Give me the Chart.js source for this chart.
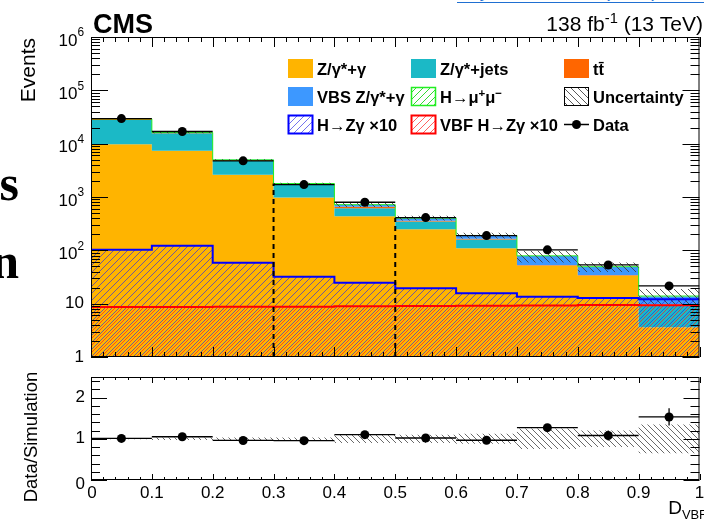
<!DOCTYPE html>
<html lang="en">
<head>
<meta charset="UTF-8">
<title>D_VBF distribution</title>
<script src="https://cdn.jsdelivr.net/npm/chart.js@4"></script>
<style>
  html, body { margin: 0; padding: 0; background: #fff; }
  body { width: 704px; height: 519px; position: relative; overflow: hidden; font-family: 'Liberation Sans', Arial, sans-serif; }
  canvas { position: absolute; left: 0; }
  #main { top: 0; }
  #ratio { top: 365px; }
  .side { position: absolute; right: 685px; font-family: 'Liberation Serif', 'Times New Roman', serif; font-weight: bold; font-size: 50px; line-height: 50px; white-space: nowrap; }
  .ref { position: absolute; left: 457px; top: -18px; font-size: 18.6px; line-height: 18.6px; color: #1f6fd1; text-decoration: underline; text-underline-offset: 5px; white-space: nowrap; }
</style>
</head>
<body>
<span class="ref">Phys. Lett. B 842 (2023) 137955</span>
<div class="side" style="top:158px">s</div>
<div class="side" style="top:236px">n</div>
<canvas id="main" width="704" height="370"></canvas>
<canvas id="ratio" width="704" height="154"></canvas>
<script>
// bin edges in D_VBF and per-bin yields
const edges  = [0, 0.1, 0.2, 0.3, 0.4, 0.5, 0.6, 0.7, 0.8, 0.9, 1.0];
const zgamma = [9800, 7400, 2600, 975, 436, 249, 110, 51.6, 33.5, 3.6];
const zjets  = [18100, 8200, 2150, 700, 180, 100, 50, 0.5, 0.3, 5.8];
const ttbar  = [1200, 500, 180, 80, 40, 10, 5, 1, 0.5, 0.2];
const vbsZg  = [80, 60, 40, 30, 60, 42, 24, 25, 14.5, 4.0];
const hmumu  = [5, 4, 3, 2, 2, 1.5, 1, 0.8, 0.5, 0.3];
const hzg10  = [103, 122, 58.8, 32.1, 24.8, 19.4, 15.7, 13.5, 12.8, 12.1];
const vbf10  = [8.7, 8.7, 8.8, 8.8, 8.9, 9.0, 9.1, 9.2, 9.4, 9.3];
const dataY  = [29500, 16900, 4760, 1710, 798, 411, 189, 102, 53.2, 21.5];
const relUnc = [0.01, 0.03, 0.03, 0.03, 0.1, 0.1, 0.12, 0.25, 0.2, 0.35];
const ratio    = [1.01, 1.05, 0.96, 0.955, 1.10, 1.02, 0.965, 1.27, 1.08, 1.53];
const ratioErr = [0.01, 0.01, 0.02, 0.03, 0.04, 0.05, 0.07, 0.09, 0.12, 0.21];
const cutEdges = [0.3, 0.5];
const xTickLabels = ['0', '0.1', '0.2', '0.3', '0.4', '0.5', '0.6', '0.7', '0.8', '0.9', '1'];
const yDecades = [0, 1, 2, 3, 4, 5, 6];
const ratioTicks = [0, 1, 2];

const FONT = '"Liberation Sans", Arial, Helvetica, sans-serif';
const centers = edges.slice(0, -1).map((e, i) => (e + edges[i + 1]) / 2);

// running sums for the stack
const stack = [];
[zgamma, zjets, ttbar, vbsZg, hmumu].reduce((run, l) => {
  const next = run.map((v, i) => v + l[i]);
  stack.push(next);
  return next;
}, zgamma.map(() => 0));
const mcTotal = stack[stack.length - 1];

// histogram as step line: one point per left edge plus the last right edge
const step = vals => vals.map((v, i) => ({ x: edges[i], y: v })).concat([{ x: edges[edges.length - 1], y: vals[vals.length - 1] }]);
const xBars = vals => vals.flatMap((v, i) => [{ x: edges[i], y: v }, { x: edges[i + 1], y: v }, { x: edges[i + 1], y: null }]);
const yBars = (vals, err) => vals.flatMap((v, i) => [{ x: centers[i], y: v - err[i] }, { x: centers[i], y: v + err[i] }, { x: centers[i], y: null }]);

function hatch(ctx, color, size, dir, shift) {
  const c = document.createElement('canvas');
  c.width = c.height = size;
  const g = c.getContext('2d');
  g.strokeStyle = color;
  g.lineWidth = 1;
  g.beginPath();
  for (let k = -1; k <= 1; k++) {
    const o = k * size + (shift || 0);
    if (dir === '/') { g.moveTo(o, size); g.lineTo(o + size, 0); }
    else { g.moveTo(o, 0); g.lineTo(o + size, size); }
  }
  g.stroke();
  return ctx.createPattern(c, 'repeat');
}

function setFont(ctx, size, bold) { ctx.font = (bold ? 'bold ' : '') + size + 'px ' + FONT; }

// draws text pieces with their own size factor and vertical offset
function rich(ctx, parts, x, y, size, bold, align) {
  let w = 0;
  const ws = parts.map(p => { setFont(ctx, size * (p.s || 1), bold); const m = ctx.measureText(p.t).width; w += m; return m; });
  let cx = align === 'right' ? x - w : align === 'center' ? x - w / 2 : x;
  parts.forEach((p, i) => { setFont(ctx, size * (p.s || 1), bold); ctx.fillText(p.t, cx, y + (p.dy || 0)); cx += ws[i]; });
}

function frame(ctx, a) {
  ctx.strokeStyle = '#000';
  ctx.lineWidth = 1;
  ctx.strokeRect(a.left + 0.5, a.top + 0.5, a.right - a.left - 1, a.bottom - a.top - 1);
}

function xTicks(ctx, a, x, major, minor) {
  ctx.beginPath();
  for (let i = 0; i <= 50; i++) {
    const px = Math.round(x.getPixelForValue(i / 50)) + 0.5;
    const len = i % 5 === 0 ? major : minor;
    ctx.moveTo(px, a.bottom); ctx.lineTo(px, a.bottom - len);
    ctx.moveTo(px, a.top); ctx.lineTo(px, a.top + len);
  }
  ctx.stroke();
}

function yTick(ctx, a, py, len) {
  py = Math.round(py) + 0.5;
  ctx.moveTo(a.left, py); ctx.lineTo(a.left + len, py);
  ctx.moveTo(a.right, py); ctx.lineTo(a.right - len, py);
}

const mainCtx = document.getElementById('main').getContext('2d');
const ratioCtx = document.getElementById('ratio').getContext('2d');
const colors = { zg: '#ffb400', zj: '#1bb9c6', tt: '#ff6600', vbs: '#3d98ff', hmm: '#22ee22', hzg: '#0000ff', vbf: '#ff0000' };
const pats = {
  hmm: hatch(mainCtx, 'rgba(0,210,0,0.8)', 7, '/'),
  hzg: hatch(mainCtx, 'rgba(40,40,230,0.65)', 7, '/'),
  vbf: hatch(mainCtx, 'rgba(255,30,30,0.7)', 7, '/', 3),
  unc: hatch(mainCtx, 'rgba(60,60,60,0.85)', 7, '\\'),
  uncR: hatch(ratioCtx, 'rgba(90,90,90,0.9)', 6, '\\')
};

const legendItems = [
  { col: 0, row: 0, kind: 'solid', color: colors.zg, text: [{ t: 'Z/γ*+γ' }] },
  { col: 1, row: 0, kind: 'solid', color: colors.zj, text: [{ t: 'Z/γ*+jets' }] },
  { col: 2, row: 0, kind: 'solid', color: colors.tt, text: [{ t: 'tt\u0304' }] },
  { col: 0, row: 1, kind: 'solid', color: colors.vbs, text: [{ t: 'VBS Z/γ*+γ' }] },
  { col: 1, row: 1, kind: 'hatch', color: colors.hmm, pat: pats.hmm, lw: 1.5, text: [{ t: 'H→μ' }, { t: '+', s: 0.7, dy: -6 }, { t: 'μ' }, { t: '−', s: 0.7, dy: -6 }] },
  { col: 2, row: 1, kind: 'hatch', color: '#000', pat: pats.unc, lw: 1, text: [{ t: 'Uncertainty' }] },
  { col: 0, row: 2, kind: 'hatch', color: colors.hzg, pat: pats.hzg, lw: 2, text: [{ t: 'H→Zγ ×10' }] },
  { col: 1, row: 2, kind: 'hatch', color: colors.vbf, pat: pats.vbf, lw: 2, text: [{ t: 'VBF H→Zγ ×10' }] },
  { col: 2, row: 2, kind: 'data', text: [{ t: 'Data' }] }
];
const legendCols = [288, 411, 564];
const legendRows = [59, 87, 115];

const mainDecor = {
  id: 'mainDecor',
  afterDraw(chart) {
    const { ctx, chartArea: a, scales: { x, y } } = chart;
    ctx.save();
    frame(ctx, a);
    xTicks(ctx, a, x, 10, 5);
    ctx.beginPath();
    yDecades.forEach(d => {
      yTick(ctx, a, y.getPixelForValue(Math.pow(10, d)), 17);
      if (d < 6) for (let m = 2; m <= 9; m++) yTick(ctx, a, y.getPixelForValue(m * Math.pow(10, d)), 9);
    });
    ctx.stroke();

    ctx.fillStyle = '#000';
    ctx.textBaseline = 'middle';
    yDecades.forEach(d => {
      const py = y.getPixelForValue(Math.pow(10, d));
      if (d === 0) rich(ctx, [{ t: '1' }], 84, py, 17, false, 'right');
      else if (d === 1) rich(ctx, [{ t: '10' }], 84, py, 17, false, 'right');
      else rich(ctx, [{ t: '10', dy: 4 }, { t: String(d), s: 0.7, dy: -4 }], 84, py, 17, false, 'right');
    });

    ctx.textBaseline = 'alphabetic';
    // axis title, rotated and flush with the top of the frame
    ctx.save();
    ctx.translate(35, a.top + 1);
    ctx.rotate(-Math.PI / 2);
    rich(ctx, [{ t: 'Events' }], 0, 0, 21, false, 'right');
    ctx.restore();

    rich(ctx, [{ t: 'CMS' }], 93, 33, 27, true, 'left');
    rich(ctx, [{ t: '138 fb' }, { t: '-1', s: 0.7, dy: -8 }, { t: ' (13 TeV)' }], 703, 31, 21, false, 'right');

    legendItems.forEach(it => {
      const sx = legendCols[it.col], sy = legendRows[it.row], w = 25, h = 19;
      if (it.kind === 'solid') {
        ctx.fillStyle = it.color;
        ctx.fillRect(sx, sy, w, h);
      } else if (it.kind === 'hatch') {
        ctx.fillStyle = it.pat;
        ctx.fillRect(sx, sy, w, h);
        ctx.strokeStyle = it.color;
        ctx.lineWidth = it.lw;
        ctx.strokeRect(sx + 0.5, sy + 0.5, w - 1, h - 1);
      } else {
        ctx.strokeStyle = '#000';
        ctx.lineWidth = 1.5;
        ctx.beginPath();
        ctx.moveTo(sx, sy + h / 2); ctx.lineTo(sx + w, sy + h / 2);
        ctx.stroke();
        ctx.fillStyle = '#000';
        ctx.beginPath();
        ctx.arc(sx + w / 2, sy + h / 2, 4.5, 0, Math.PI * 2);
        ctx.fill();
      }
      ctx.fillStyle = '#000';
      rich(ctx, it.text, sx + 29, sy + 16, 16.5, true, 'left');
    });
    ctx.restore();
  }
};

const ratioDecor = {
  id: 'ratioDecor',
  afterDraw(chart) {
    const { ctx, chartArea: a, scales: { x, y } } = chart;
    ctx.save();
    frame(ctx, a);
    xTicks(ctx, a, x, 6, 3);
    ctx.beginPath();
    for (let i = 0; i <= 12; i++) {
      const v = i * 0.2;
      yTick(ctx, a, y.getPixelForValue(v), i % 5 === 0 ? 16 : 9);
    }
    ctx.stroke();

    ctx.fillStyle = '#000';
    ctx.textBaseline = 'middle';
    ratioTicks.forEach(v => {
      const py = y.getPixelForValue(v) + (v === 0 ? 4 : 0);
      rich(ctx, [{ t: String(v) }], 85, py, 17, false, 'right');
    });
    ctx.textBaseline = 'alphabetic';
    xTickLabels.forEach((t, i) => {
      const px = x.getPixelForValue(edges[i]) + (i === 0 ? 1 : 0);
      rich(ctx, [{ t }], px, a.bottom + 18, 17, false, 'center');
    });
    rich(ctx, [{ t: 'D' }, { t: 'VBF', s: 0.68, dy: 5 }], 707, 149, 19, false, 'right');

    ctx.save();
    ctx.translate(37, 72);
    ctx.rotate(-Math.PI / 2);
    rich(ctx, [{ t: 'Data/Simulation' }], 0, 0, 18.5, false, 'center');
    ctx.restore();
    ctx.restore();
  }
};

const line = (data, extra) => Object.assign({ data, stepped: true, pointRadius: 0, borderWidth: 0, borderColor: 'transparent', fill: false }, extra);

const mainSets = [
  line(step(stack[0]), { fill: 'start', backgroundColor: colors.zg }),
  line(step(stack[1]), { fill: '-1', backgroundColor: colors.zj }),
  line(step(stack[2]), { fill: '-1', backgroundColor: colors.tt }),
  line(step(stack[3]), { fill: '-1', backgroundColor: colors.vbs }),
  line(step(stack[4]), { fill: '-1', backgroundColor: pats.hmm, borderColor: colors.hmm, borderWidth: 1 }),
  line(step(mcTotal.map((v, i) => v * (1 - relUnc[i])))),
  line(step(mcTotal.map((v, i) => v * (1 + relUnc[i]))), { fill: '-1', backgroundColor: pats.unc }),
  line(step(hzg10), { fill: 'start', backgroundColor: pats.hzg, borderColor: colors.hzg, borderWidth: 2 }),
  line(step(vbf10), { fill: 'start', backgroundColor: pats.vbf, borderColor: colors.vbf, borderWidth: 2 }),
  ...cutEdges.map(c => line([{ x: c, y: 1 }, { x: c, y: mcTotal[edges.indexOf(c)] }], { stepped: false, borderColor: '#000', borderWidth: 2, borderDash: [5, 4] })),
  line(xBars(dataY), { stepped: false, borderColor: '#000', borderWidth: 1.3, spanGaps: false }),
  { data: dataY.map((v, i) => ({ x: centers[i], y: v })), showLine: false, pointRadius: 4.5, pointBackgroundColor: '#000', pointBorderWidth: 0 }
];
// first entry is painted first, later entries on top
mainSets.forEach((d, i) => { d.order = mainSets.length - i; });

const ratioSets = [
  line(step(relUnc.map(u => 1 - u))),
  line(step(relUnc.map(u => 1 + u)), { fill: '-1', backgroundColor: pats.uncR }),
  line(xBars(ratio), { stepped: false, borderColor: '#000', borderWidth: 1.3, spanGaps: false }),
  line(yBars(ratio, ratioErr), { stepped: false, borderColor: '#000', borderWidth: 1.3, spanGaps: false }),
  { data: ratio.map((v, i) => ({ x: centers[i], y: v })), showLine: false, pointRadius: 4.5, pointBackgroundColor: '#000', pointBorderWidth: 0 }
];
ratioSets.forEach((d, i) => { d.order = ratioSets.length - i; });

const common = {
  responsive: false,
  animation: false,
  events: [],
  plugins: { legend: { display: false }, tooltip: { enabled: false } }
};

new Chart(mainCtx, {
  type: 'line',
  data: { datasets: mainSets },
  options: Object.assign({}, common, {
    layout: { padding: { left: 0, right: 1, top: 37, bottom: 0 } },
    scales: {
      x: { type: 'linear', min: 0, max: 1, grid: { display: false }, border: { display: false }, ticks: { display: false }, afterFit: s => { s.height = 13; } },
      y: { type: 'logarithmic', min: 1, max: 1e6, grid: { display: false }, border: { display: false }, ticks: { display: false }, afterFit: s => { s.width = 91; } }
    }
  }),
  plugins: [mainDecor]
});

new Chart(ratioCtx, {
  type: 'line',
  data: { datasets: ratioSets },
  options: Object.assign({}, common, {
    layout: { padding: { left: 0, right: 1, top: 12, bottom: 0 } },
    scales: {
      x: { type: 'linear', min: 0, max: 1, grid: { display: false }, border: { display: false }, ticks: { display: false }, afterFit: s => { s.height = 39; } },
      y: { type: 'linear', min: 0, max: 2.5, grid: { display: false }, border: { display: false }, ticks: { display: false }, afterFit: s => { s.width = 91; } }
    }
  }),
  plugins: [ratioDecor]
});
</script>
</body>
</html>
